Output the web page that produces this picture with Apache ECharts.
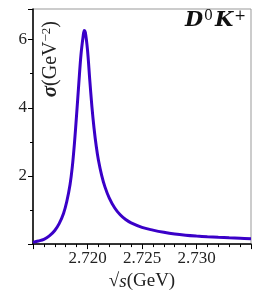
<!DOCTYPE html>
<html><head><meta charset="utf-8">
<script src="https://cdn.jsdelivr.net/npm/echarts@6/dist/echarts.min.js"></script>
<style>html,body{margin:0;padding:0;background:#fff}#c{width:256px;height:296px}</style>
</head><body><div id="c"></div>
<script>
const sqrtS = [2.7150,2.7155,2.7160,2.7165,2.7170,2.7174,2.7178,2.7181,2.7184,2.7186,2.7188,2.7190,2.7192,2.7194,2.7196,2.7197,2.7198,2.7200,2.7202,2.7204,2.7206,2.7208,2.7210,2.7213,2.7216,2.7220,2.7225,2.7230,2.7235,2.7240,2.7250,2.7260,2.7270,2.7280,2.7290,2.7300,2.7310,2.7320,2.7330,2.7340,2.7350];
const sigma = [0.05,0.09,0.14,0.24,0.40,0.60,0.90,1.25,1.75,2.25,2.95,3.80,4.70,5.55,6.10,6.27,6.22,5.70,4.85,4.05,3.40,2.88,2.47,2.02,1.68,1.35,1.06,0.86,0.72,0.62,0.49,0.41,0.345,0.295,0.26,0.235,0.215,0.198,0.183,0.171,0.16];
const xTicks = ['2.720','2.725','2.730'];
const yTicks = ['2','4','6'];
const serif = '"Liberation Serif","DejaVu Serif",serif';
const dserif = '"DejaVu Serif","Liberation Serif",serif';
const chart = echarts.init(document.getElementById('c'), null, {renderer:'canvas'});
chart.setOption({
  animation:false,
  grid:{left:33,right:5,top:9,bottom:47,show:true,borderColor:'#999',borderWidth:1},
  xAxis:{type:'value',min:2.715,max:2.735,interval:0.005,
    axisLine:{show:true,onZero:false,lineStyle:{color:'#000',width:1.5}},
    axisTick:{show:true,inside:false,length:5,lineStyle:{color:'#000'}},
    minorTick:{show:true,splitNumber:5,length:3,lineStyle:{color:'#000'}},
    splitLine:{show:false},
    axisLabel:{fontFamily:serif,fontSize:17,color:'#222',margin:6,showMinLabel:false,showMaxLabel:false,
      formatter:v=>{const s=v.toFixed(3);return xTicks.includes(s)?s:'';}},
    name:'{n|√}{i|s}{n|(GeV)}',nameLocation:'middle',nameGap:27,
    nameTextStyle:{fontFamily:serif,fontSize:19,color:'#222',
      rich:{n:{fontFamily:serif,fontSize:19,color:'#222'},i:{fontFamily:serif,fontSize:19,fontStyle:'italic',color:'#222'}}}},
  yAxis:{type:'value',min:0,max:6.9,interval:2,
    axisLine:{show:true,lineStyle:{color:'#000',width:1.5}},
    axisTick:{show:true,inside:false,length:5,lineStyle:{color:'#000'}},
    minorTick:{show:true,splitNumber:2,length:3,lineStyle:{color:'#000'}},
    splitLine:{show:false},
    axisLabel:{fontFamily:serif,fontSize:17,color:'#222',margin:6,showMaxLabel:false,
      formatter:v=>{const s=String(Math.round(v));return yTicks.includes(s)&&Math.abs(v-Math.round(v))<1e-6?s:'';}}},
  series:[{type:'line',data:sqrtS.map((x,i)=>[x,sigma[i]]),smooth:0.35,showSymbol:false,
    lineStyle:{color:'#3a00c8',width:3}}],
  graphic:[
    {type:'text',left:40,top:21,rotation:Math.PI/2,
      style:{text:'{s|σ}{n|(GeV}{sup|−2}{n|)}',fill:'#222',
      rich:{s:{fontFamily:serif,fontSize:21,fontStyle:'italic',fontWeight:'bold',fill:'#222'},
            n:{fontFamily:serif,fontSize:20,fill:'#222'},
            sup:{fontFamily:serif,fontSize:13,fill:'#222',padding:[0,0,9,0]}}}},
    {type:'text',right:10,top:9,
      style:{text:'{b|D}{sup|0}{b|K}{sup|+}',fill:'#111',
      rich:{b:{fontFamily:dserif,fontSize:21,fontStyle:'italic',fontWeight:'bold',fill:'#111'},
            sup:{fontFamily:dserif,fontSize:14,fill:'#111',padding:[0,2,9,1]}}}}
  ]
});
</script></body></html>
